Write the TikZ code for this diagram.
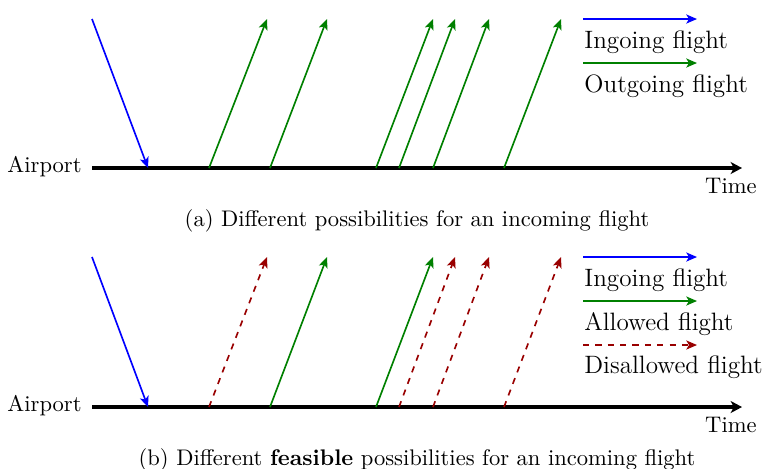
\documentclass[tikz,border=0pt]{standalone}
\usetikzlibrary{arrows.meta}
\begin{document}
\begin{tikzpicture}[x=0.4854pt,y=-0.4854pt,
  flight/.style={thick,-{Stealth[length=5.2pt,width=4.4pt,inset=1.3pt]}},
  ingoing/.style={flight,blue},
  outgoing/.style={flight,green!50!black},
  disallowed/.style={flight,dashed,red!60!black},
  timeline/.style={line width=1.5pt,-{Stealth[length=5.5pt,width=5.8pt,inset=1.5pt]}},
  basetext/.style={font=\fontsize{10.95}{13.6}\selectfont},
  legendtext/.style={font=\fontsize{12.2}{14.5}\selectfont,anchor=base west,inner sep=0pt},
  axislabel/.style={basetext,inner sep=0pt},
  captiontext/.style={basetext,anchor=base,inner sep=0pt},
]
\useasboundingbox (0,0) rectangle (763,468);

% ---------- (a) all possible outgoing flights ----------
\coordinate (a0) at (92,168);
\coordinate (a1) at (742,168);
\draw[timeline] (a0) -- (a1);
\node[axislabel,anchor=east] (aport) at (82,167) {Airport};
\node[axislabel,anchor=base east] (atime) at (757,193) {Time};

\coordinate (ain0) at (92,19);
\coordinate (ain1) at (148,168);
\draw[ingoing] (ain0) -- (ain1);

\coordinate (ao1s) at (209,168); \coordinate (ao1e) at (267,19);
\coordinate (ao2s) at (270,168); \coordinate (ao2e) at (327,19);
\coordinate (ao3s) at (376,168); \coordinate (ao3e) at (433,19);
\coordinate (ao4s) at (399,168); \coordinate (ao4e) at (455,19);
\coordinate (ao5s) at (433,168); \coordinate (ao5e) at (489,19);
\coordinate (ao6s) at (504,168); \coordinate (ao6e) at (561,19);
\draw[outgoing] (ao1s) -- (ao1e);
\draw[outgoing] (ao2s) -- (ao2e);
\draw[outgoing] (ao3s) -- (ao3e);
\draw[outgoing] (ao4s) -- (ao4e);
\draw[outgoing] (ao5s) -- (ao5e);
\draw[outgoing] (ao6s) -- (ao6e);

% legend
\coordinate (alg1s) at (583,19);  \coordinate (alg1e) at (697,19);
\coordinate (alg2s) at (583,63);  \coordinate (alg2e) at (697,63);
\draw[ingoing] (alg1s) -- (alg1e);
\draw[outgoing] (alg2s) -- (alg2e);
\node[legendtext] (alt1) at (584,48) {Ingoing flight};
\node[legendtext] (alt2) at (584,92) {Outgoing flight};

\node[captiontext] (capa) at (417,226) {(a) Different possibilities for an incoming flight};

% ---------- (b) feasible outgoing flights ----------
\coordinate (b0) at (92,407);
\coordinate (b1) at (742,407);
\draw[timeline] (b0) -- (b1);
\node[axislabel,anchor=east] (bport) at (82,406) {Airport};
\node[axislabel,anchor=base east] (btime) at (757,432) {Time};

\coordinate (bin0) at (92,257);
\coordinate (bin1) at (148,407);
\draw[ingoing] (bin0) -- (bin1);

\coordinate (bo1s) at (209,407); \coordinate (bo1e) at (267,257);
\coordinate (bo2s) at (270,407); \coordinate (bo2e) at (327,257);
\coordinate (bo3s) at (376,407); \coordinate (bo3e) at (433,257);
\coordinate (bo4s) at (399,407); \coordinate (bo4e) at (455,257);
\coordinate (bo5s) at (433,407); \coordinate (bo5e) at (489,257);
\coordinate (bo6s) at (504,407); \coordinate (bo6e) at (561,257);
\draw[disallowed] (bo1s) -- (bo1e);
\draw[outgoing] (bo2s) -- (bo2e);
\draw[outgoing] (bo3s) -- (bo3e);
\draw[disallowed] (bo4s) -- (bo4e);
\draw[disallowed] (bo5s) -- (bo5e);
\draw[disallowed] (bo6s) -- (bo6e);

% legend
\coordinate (blg1s) at (583,257); \coordinate (blg1e) at (697,257);
\coordinate (blg2s) at (583,301); \coordinate (blg2e) at (697,301);
\coordinate (blg3s) at (583,345); \coordinate (blg3e) at (697,345);
\draw[ingoing] (blg1s) -- (blg1e);
\draw[outgoing] (blg2s) -- (blg2e);
\draw[disallowed] (blg3s) -- (blg3e);
\node[legendtext] (blt1) at (584,286) {Ingoing flight};
\node[legendtext] (blt2) at (584,330) {Allowed flight};
\node[legendtext] (blt3) at (584,373) {Disallowed flight};

\node[captiontext] (capb) at (417,465) {(b) Different \textbf{feasible} possibilities for an incoming flight};
\end{tikzpicture}
\end{document}
